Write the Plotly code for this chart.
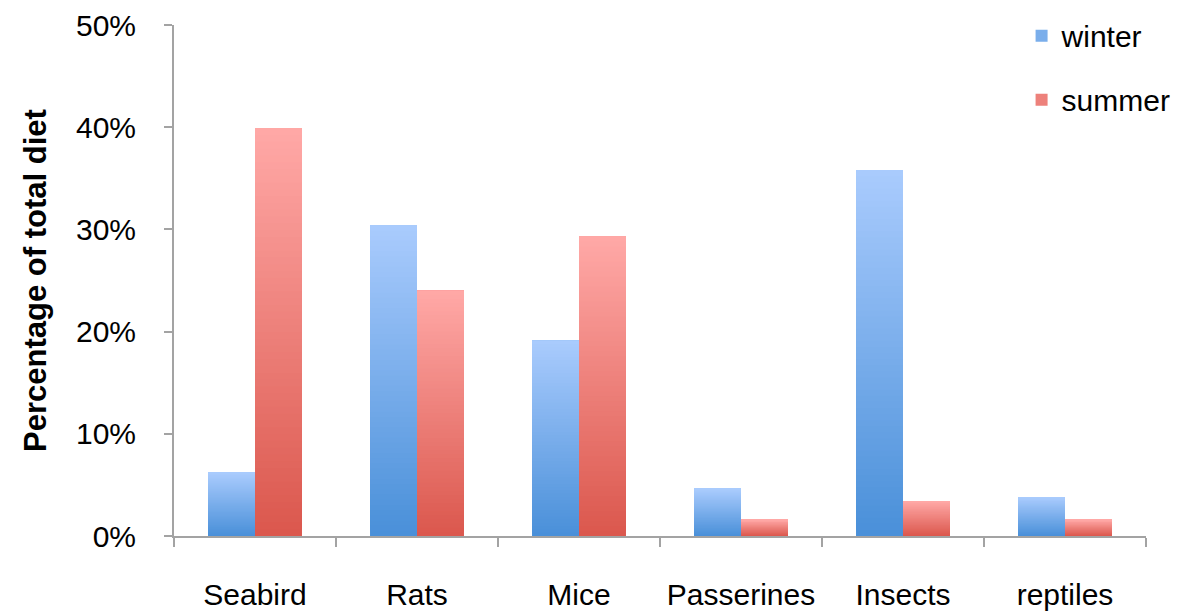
import plotly.graph_objects as go

# Diet composition by prey type, per season (percent of total diet)
categories = ["Seabird", "Rats", "Mice", "Passerines", "Insects", "reptiles"]
winter = [6.2, 30.4, 19.1, 4.6, 35.8, 3.8]
summer = [39.9, 24.0, 29.3, 1.6, 3.4, 1.6]

series = [
    ("winter", winter, (0x4a, 0x90, 0xd9), (0xa9, 0xcb, 0xfd)),
    ("summer", summer, (0xdb, 0x58, 0x4e), (0xff, 0xa8, 0xa6)),
]

# Each bar is painted as overlapping layers: layer k runs from k/N of the
# value up to the full value, so later (lighter) layers cover the upper part
# and the colour runs from a darker base to a lighter top without seams.
N_LAYERS = 60


def mix(c0, c1, t):
    return "rgb({},{},{})".format(*[round(a + (b - a) * t) for a, b in zip(c0, c1)])


fig = go.Figure()
for name, values, bottom, top in series:
    for k in range(N_LAYERS):
        t = k / (N_LAYERS - 1)
        fig.add_trace(go.Bar(
            x=categories,
            y=[v - v * k / N_LAYERS for v in values],
            base=[v * k / N_LAYERS for v in values],
            offsetgroup=name,
            legendgroup=name,
            name=name,
            showlegend=(k == N_LAYERS // 2),
            marker=dict(color=mix(bottom, top, t), line=dict(width=0)),
            hoverinfo="skip",
        ))

axis_grey = "#a3a3a3"
font_family = "Liberation Sans, Arial, sans-serif"

fig.update_layout(
    width=1182,
    height=616,
    margin=dict(l=174, r=36, t=25, b=80, autoexpand=False),
    paper_bgcolor="white",
    plot_bgcolor="white",
    barmode="group",
    bargap=0.42,
    bargroupgap=0,
    font=dict(family=font_family, size=30, color="black"),
    legend=dict(
        x=0.872, xanchor="left",
        y=1.03, yanchor="top",
        bgcolor="rgba(0,0,0,0)",
        font=dict(size=30),
        traceorder="grouped",
        tracegroupgap=22,
        itemwidth=30,
    ),
    xaxis=dict(
        type="category",
        tickson="boundaries",
        ticks="outside",
        ticklen=9,
        tickwidth=2,
        tickcolor=axis_grey,
        showline=True,
        linecolor=axis_grey,
        linewidth=2,
        showgrid=False,
        tickangle=0,
        automargin=False,
        ticklabelstandoff=31,
        tickfont=dict(size=30),
    ),
    yaxis=dict(
        range=[0, 50],
        dtick=10,
        ticksuffix="%",
        ticks="outside",
        ticklen=8,
        tickwidth=2,
        tickcolor=axis_grey,
        showline=True,
        linecolor=axis_grey,
        linewidth=2,
        showgrid=False,
        zeroline=False,
        automargin=False,
        ticklabelstandoff=22,
        tickfont=dict(size=30),
        title=dict(
            text="Percentage of total diet",
            font=dict(size=31, weight="bold"),
            standoff=20,
        ),
    ),
)

fig.write_html("out.html")
